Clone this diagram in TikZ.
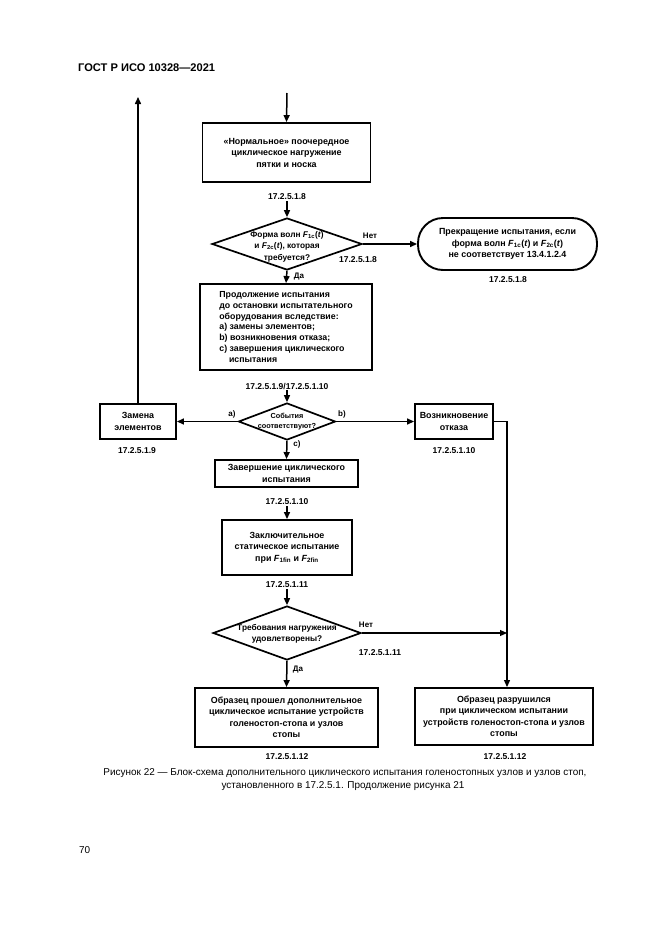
\documentclass[tikz,border=0pt]{standalone}
\usepackage{fontspec}
\setmainfont{Liberation Sans}
\usetikzlibrary{shapes.geometric,arrows.meta,calc}
\newcommand{\Fsub}[1]{\textit{F}\textsubscript{#1}}
\begin{document}
\begin{tikzpicture}[x=1pt,y=-1pt,
  box/.style={draw, line width=1.9pt, inner sep=0pt, align=center,
    font=\bfseries\fontsize{8.9}{11.5}\selectfont},
  dia/.style={draw, diamond, line width=1.7pt, inner sep=0pt},
  diatext/.style={align=center, inner sep=0pt, font=\bfseries\fontsize{8.3}{11.5}\selectfont},
  lbl/.style={inner sep=1pt, font=\bfseries\fontsize{8.5}{10}\selectfont},
  small/.style={inner sep=1pt, font=\bfseries\fontsize{8}{10}\selectfont},
  arr/.style={line width=1.5pt, -{Triangle[length=7pt,width=6pt]}},
  thinarr/.style={line width=1.1pt, -{Triangle[length=7pt,width=6pt]}},
  captext/.style={inner sep=0pt, font=\fontsize{9.95}{13}\selectfont}
]
\useasboundingbox (0,0) rectangle (661,935);

% header
\node[anchor=west, inner sep=0pt, font=\bfseries\fontsize{11.1}{12}\selectfont] (hdr) at (78,68) {ГОСТ Р ИСО 10328—2021};

% top entry
\coordinate (tin) at (287,93);
\node[box, minimum width=168pt, minimum height=59pt] (b1) at (286.5,152.5)
  {«Нормальное» поочередное\\циклическое нагружение\\пятки и носка};
\node[lbl] (l1) at (287,197) {17.2.5.1.8};

% diamond 1
\node[dia, minimum width=150pt, minimum height=52pt] (d1) at (287,244) {};
\node[diatext] (d1t) at (287,246.5) {Форма волн \Fsub{1c}(\textit{t})\\и \Fsub{2c}(\textit{t}), которая\\требуется?};
\node[small] (no1) at (370,236) {Нет};
\node[lbl] (l1b) at (358,260) {17.2.5.1.8};
\node[small] (yes1) at (299,277) {Да};

% terminal
\node[box, rounded corners=25pt, minimum width=179pt, minimum height=52pt] (t1) at (507.5,244)
  {Прекращение испытания, если\\форма волн \Fsub{1c}(\textit{t}) и \Fsub{2c}(\textit{t})\\не соответствует 13.4.1.2.4};
\node[lbl] (lt1) at (508,280) {17.2.5.1.8};

% box 2
\node[box, align=left, minimum width=172pt, minimum height=86pt,
  font=\bfseries\fontsize{8.8}{10.8}\selectfont] (b2) at (286,327)
  {Продолжение испытания\\до остановки испытательного\\оборудования вследствие:\\a) замены элементов;\\b) возникновения отказа;\\c) завершения циклического\\\hspace*{1.1em}испытания};
\node[lbl] (l2) at (287,386) {17.2.5.1.9/17.2.5.1.10};

% diamond 2
\node[dia, minimum width=97pt, minimum height=37pt] (d2) at (287,421.5) {};
\node[diatext, font=\bfseries\fontsize{7.3}{10}\selectfont] (d2t) at (287,422) {События\\соответствуют?};
\node[small] (ea) at (232,414) {a)};
\node[small] (eb) at (342,414) {b)};
\node[small] (ec) at (297,444) {c)};

% left box
\node[box, minimum width=76pt, minimum height=35pt] (lb) at (138,421.5) {Замена\\элементов};
\node[lbl] (llb) at (137,451) {17.2.5.1.9};
\coordinate (ltop) at (138,97);

% right box
\node[box, minimum width=78pt, minimum height=35pt] (rb) at (454,421.5) {Возникновение\\отказа};
\node[lbl] (lrb) at (454,451) {17.2.5.1.10};
\coordinate (rc) at (507,421.5);

% box 3
\node[box, minimum width=143pt, minimum height=27pt] (b3) at (286.5,473.5) {Завершение циклического\\испытания};
\node[lbl] (l3) at (287,502) {17.2.5.1.10};

% box 4
\node[box, minimum width=130pt, minimum height=55pt] (b4) at (287,547.5)
  {Заключительное\\статическое испытание\\при \Fsub{1fin} и \Fsub{2fin}};
\node[lbl] (l4) at (287,585) {17.2.5.1.11};

% diamond 3
\node[dia, minimum width=148pt, minimum height=54pt] (d3) at (287,633) {};
\node[diatext] (d3t) at (287,634) {Требования нагружения\\удовлетворены?};
\node[small] (no3) at (366,625) {Нет};
\node[lbl] (l3b) at (380,653) {17.2.5.1.11};
\node[small] (yes3) at (298,670) {Да};
\coordinate (jn) at (507,633);

% bottom boxes
\node[box, minimum width=183pt, minimum height=59pt] (bl) at (286.5,717.5)
  {Образец прошел дополнительное\\циклическое испытание устройств\\голеностоп-стопа и узлов\\стопы};
\node[lbl] (lbl1) at (287,757) {17.2.5.1.12};
\node[box, minimum width=178pt, minimum height=57pt] (br) at (504,716.5)
  {Образец разрушился\\при циклическом испытании\\устройств голеностоп-стопа и узлов\\стопы};
\node[lbl] (lbr) at (505,757) {17.2.5.1.12};

% connectors
\draw[arr] (tin) -- (b1.north);
\draw[arr] (l1.south) -- (d1.north);
\draw[arr] (d1.east) -- (t1.west);
\draw[arr] (d1.south) -- (b2.north);
\draw[arr] (l2.south) -- (d2.north);
\draw[arr] (d2.west) -- (lb.east);
\draw[arr] (d2.east) -- (rb.west);
\draw[arr] (d2.south) -- (b3.north);
\draw[arr] (lb.north) -- (ltop);
\draw[arr] (l3.south) -- (b4.north);
\draw[arr] (l4.south) -- (d3.north);
\draw[arr] (d3.south) -- (bl.north);
\draw[thinarr] (rb.east) -- (rc) -- (rc |- br.north);
\draw[thinarr] (d3.east) -- (jn);

% caption
\node[captext] (c1) at (345,773) {Рисунок 22 — Блок-схема дополнительного циклического испытания голеностопных узлов и узлов стоп,};
\node[captext] (c2) at (343,786.5) {установленного в 17.2.5.1. Продолжение рисунка 21};
\node[captext, anchor=west] (pg) at (79,850) {70};
\end{tikzpicture}
\end{document}
